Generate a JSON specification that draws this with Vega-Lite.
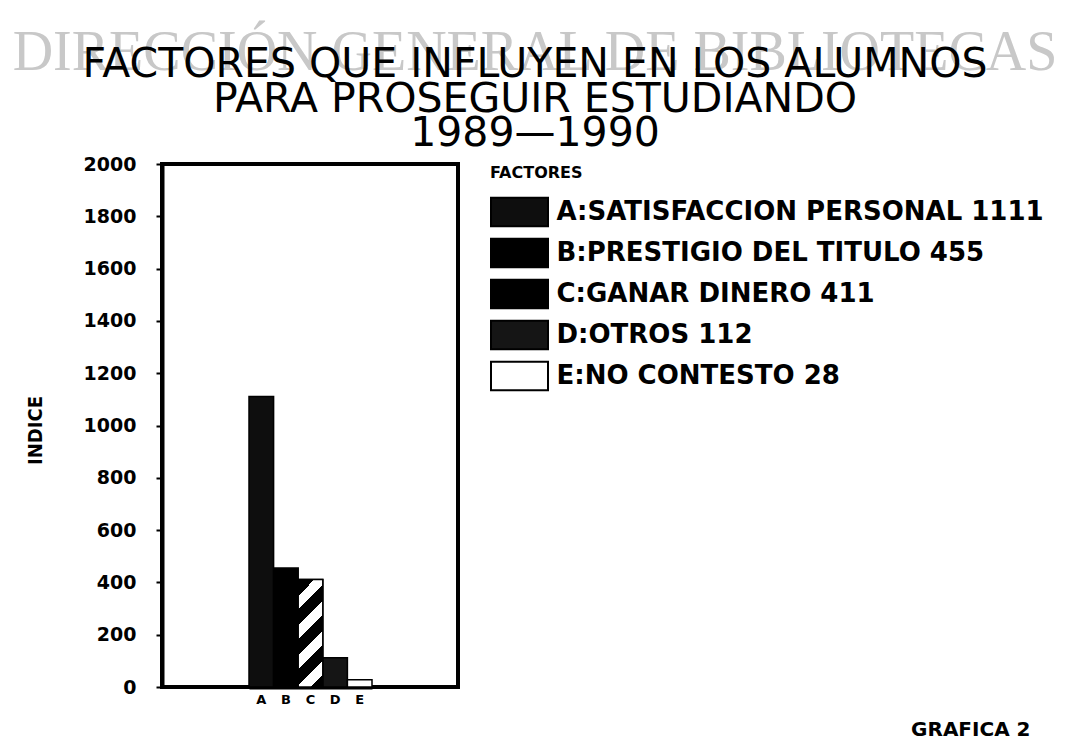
{
  "$schema": "https://vega.github.io/schema/vega-lite/v6.json",
  "autosize": {"type": "none"},
  "padding": {"left": 162, "top": 164, "right": 612, "bottom": 65},
  "width": 296,
  "height": 523,
  "background": "white",
  "title": {
    "text": "DIRECCIÓN GENERAL DE BIBLIOTECAS",
    "subtitle": ["FACTORES QUE INFLUYEN EN LOS ALUMNOS", "PARA PROSEGUIR ESTUDIANDO", "1989—1990"],
    "anchor": "middle",
    "frame": "group",
    "dx": 225,
    "font": "Liberation Serif",
    "fontSize": 56,
    "fontWeight": "normal",
    "color": "#c8c8c8",
    "subtitleFont": "DejaVu Sans",
    "subtitleFontSize": 41,
    "subtitleLineHeight": 34.5,
    "subtitleColor": "black",
    "subtitlePadding": -37,
    "offset": 0
  },
  "data": {
    "values": [
      {"k": "A", "factor": "A:SATISFACCION PERSONAL 1111", "v": 1111},
      {"k": "B", "factor": "B:PRESTIGIO DEL TITULO 455", "v": 455},
      {"k": "C", "factor": "C:GANAR DINERO 411", "v": 411},
      {"k": "D", "factor": "D:OTROS 112", "v": 112},
      {"k": "E", "factor": "E:NO CONTESTO 28", "v": 28}
    ]
  },
  "encoding": {
    "x": {
      "field": "k",
      "type": "nominal",
      "scale": {"paddingInner": 0, "paddingOuter": 0, "range": [87, 210]},
      "axis": {
        "title": "GRAFICA 2",
        "titleX": 868,
        "titleY": 48,
        "titleAlign": "right",
        "titleBaseline": "alphabetic",
        "titleFont": "DejaVu Sans",
        "titleFontWeight": "bold",
        "titleFontSize": 20,
        "labelAngle": 0,
        "labelFont": "DejaVu Sans",
        "labelFontWeight": "bold",
        "labelFontSize": 13,
        "labelPadding": 6,
        "ticks": false,
        "domainColor": "black",
        "domainWidth": 4,
        "labelColor": "black",
        "titleColor": "black"
      }
    },
    "y": {
      "field": "v",
      "type": "quantitative",
      "scale": {"domain": [0, 2000], "nice": false},
      "axis": {
        "title": "INDICE",
        "format": "d",
        "values": [0, 200, 400, 600, 800, 1000, 1200, 1400, 1600, 1800, 2000],
        "grid": false,
        "titleX": -127,
        "titleY": 266,
        "titleAlign": "center",
        "titleBaseline": "middle",
        "titleFont": "DejaVu Sans Condensed",
        "titleFontWeight": "bold",
        "titleFontSize": 20,
        "titleColor": "black",
        "labelFont": "DejaVu Sans",
        "labelFontWeight": "bold",
        "labelFontSize": 19,
        "labelColor": "black",
        "labelPadding": 20,
        "tickSize": 6,
        "tickWidth": 2,
        "tickColor": "black",
        "domainColor": "black",
        "domainWidth": 4
      }
    }
  },
  "layer": [
    {
      "mark": {"type": "bar", "stroke": "black", "strokeWidth": 1.5},
      "encoding": {
        "fill": {
          "field": "factor",
          "type": "nominal",
          "sort": null,
          "scale": {
            "domain": ["A:SATISFACCION PERSONAL 1111", "B:PRESTIGIO DEL TITULO 455", "C:GANAR DINERO 411", "D:OTROS 112", "E:NO CONTESTO 28"],
            "range": ["#0e0e0e", "#000000", "#000000", "#151515", "white"]
          },
          "legend": {
            "title": "FACTORES",
            "orient": "none",
            "legendX": 328,
            "legendY": 1,
            "titleFont": "DejaVu Sans",
            "titleFontWeight": "bold",
            "titleFontSize": 16,
            "titleColor": "black",
            "titlePadding": 18,
            "labelFont": "DejaVu Sans",
            "labelFontWeight": "bold",
            "labelFontSize": 26,
            "labelColor": "black",
            "labelLimit": 700,
            "labelOffset": 24,
            "rowPadding": 3,
            "symbolType": "M-5.7,-2.85H5.7V2.85H-5.7Z",
            "symbolSize": 100,
            "symbolOffset": 16.5,
            "symbolStrokeColor": "black",
            "symbolStrokeWidth": 2,
            "symbolOpacity": 1
          }
        }
      }
    },
    {
      "transform": [{"filter": "datum.k === 'C'"}],
      "mark": {
        "type": "bar",
        "stroke": "black",
        "strokeWidth": 1.5,
        "fill": {"gradient": "linear", "x1": 0, "y1": 0, "x2": 0.275, "y2": 1.2, "stops": [
          {"offset": 0, "color": "black"}, {"offset": 0.12, "color": "black"},
          {"offset": 0.12, "color": "white"}, {"offset": 0.22, "color": "white"},
          {"offset": 0.22, "color": "black"}, {"offset": 0.34, "color": "black"},
          {"offset": 0.34, "color": "white"}, {"offset": 0.44, "color": "white"},
          {"offset": 0.44, "color": "black"}, {"offset": 0.56, "color": "black"},
          {"offset": 0.56, "color": "white"}, {"offset": 0.66, "color": "white"},
          {"offset": 0.66, "color": "black"}, {"offset": 0.78, "color": "black"},
          {"offset": 0.78, "color": "white"}, {"offset": 0.88, "color": "white"},
          {"offset": 0.88, "color": "black"}, {"offset": 1, "color": "black"}
        ]}
      }
    }
  ],
  "config": {
    "view": {"stroke": "black", "strokeWidth": 4}
  }
}
